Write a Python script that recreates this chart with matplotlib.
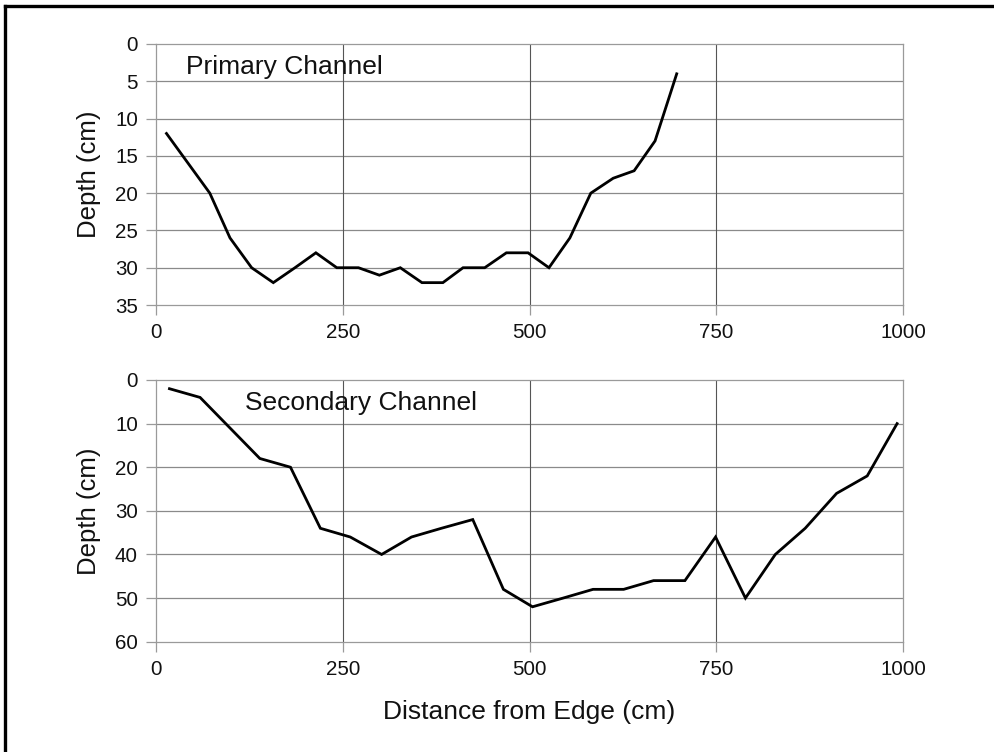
import matplotlib
matplotlib.use("Agg")
import matplotlib.pyplot as plt
from matplotlib.lines import Line2D

plt.rcParams['font.family'] = ['Liberation Sans', 'DejaVu Sans']

# primary channel profile
primary_dist = [14, 43, 72, 99, 128, 157, 186, 214, 242, 271, 299, 327, 356,
                384, 411, 440, 469, 498, 526, 554, 582, 612, 640, 668, 697]
primary_depth = [12, 16, 20, 26, 30, 32, 30, 28, 30, 30, 31, 30, 32,
                 32, 30, 30, 28, 28, 30, 26, 20, 18, 17, 13, 4]

# secondary channel profile
secondary_dist = [18, 59, 99, 139, 180, 220, 260, 302, 342, 382, 424, 465, 504,
                  545, 585, 626, 666, 708, 749, 789, 829, 869, 911, 952, 992]
secondary_depth = [2, 4, 11, 18, 20, 34, 36, 40, 36, 34, 32, 48, 52,
                   50, 48, 48, 46, 46, 36, 50, 40, 34, 26, 22, 10]

x_ticks = [0, 250, 500, 750, 1000]
primary_yticks = [0, 5, 10, 15, 20, 25, 30, 35]
secondary_yticks = [0, 10, 20, 30, 40, 50, 60]

fig = plt.figure(figsize=(9.95, 7.52), dpi=100)
ax1 = fig.add_axes([0.1568, 0.5944, 0.7508, 0.3471])
ax2 = fig.add_axes([0.1568, 0.1467, 0.7508, 0.3480])

spine_col = '#9a9a9a'
hgrid_col = '#8a8a8a'
vgrid_col = '#555555'


def style(ax, yticks):
    ax.set_xlim(0, 1000)
    ax.set_ylim(yticks[-1], yticks[0])
    ax.set_xticks(x_ticks)
    ax.set_yticks(yticks)
    for s in ax.spines.values():
        s.set_color(spine_col)
        s.set_linewidth(0.9)
    for y in yticks[1:-1]:
        ax.axhline(y, color=hgrid_col, lw=0.9, zorder=1)
    for x in x_ticks[1:-1]:
        ax.axvline(x, color=vgrid_col, lw=0.8, zorder=1)
    ax.tick_params(axis='both', direction='out', length=7, width=0.9,
                   color=spine_col, labelsize=14.8, labelcolor='#111111')
    ax.tick_params(axis='y', pad=6)
    ax.tick_params(axis='x', pad=6)
    ax.set_ylabel('Depth (cm)', fontsize=18.5, labelpad=10, color='#111111')


style(ax1, primary_yticks)
style(ax2, secondary_yticks)

ax1.plot(primary_dist, primary_depth, color='black', lw=2.0, zorder=3,
         solid_joinstyle='miter')
ax2.plot(secondary_dist, secondary_depth, color='black', lw=2.0, zorder=3,
         solid_joinstyle='miter')

ax1.text(40, 4.0, 'Primary Channel', fontsize=19, color='#111111',
         va='baseline', ha='left', zorder=4)
ax2.text(119, 6.9, 'Secondary Channel', fontsize=19, color='#111111',
         va='baseline', ha='left', zorder=4)

ax2.set_xlabel('Distance from Edge (cm)', fontsize=19, labelpad=15,
               color='#111111')

# partial black frame around the figure (left and top edges)
fig.add_artist(Line2D([0.0055, 0.0055], [0.0, 0.9915], color='black',
                      lw=2.4, transform=fig.transFigure))
fig.add_artist(Line2D([0.0055, 1.0], [0.9915, 0.9915], color='black',
                      lw=2.4, transform=fig.transFigure))

fig.savefig('out.png', dpi=100)
